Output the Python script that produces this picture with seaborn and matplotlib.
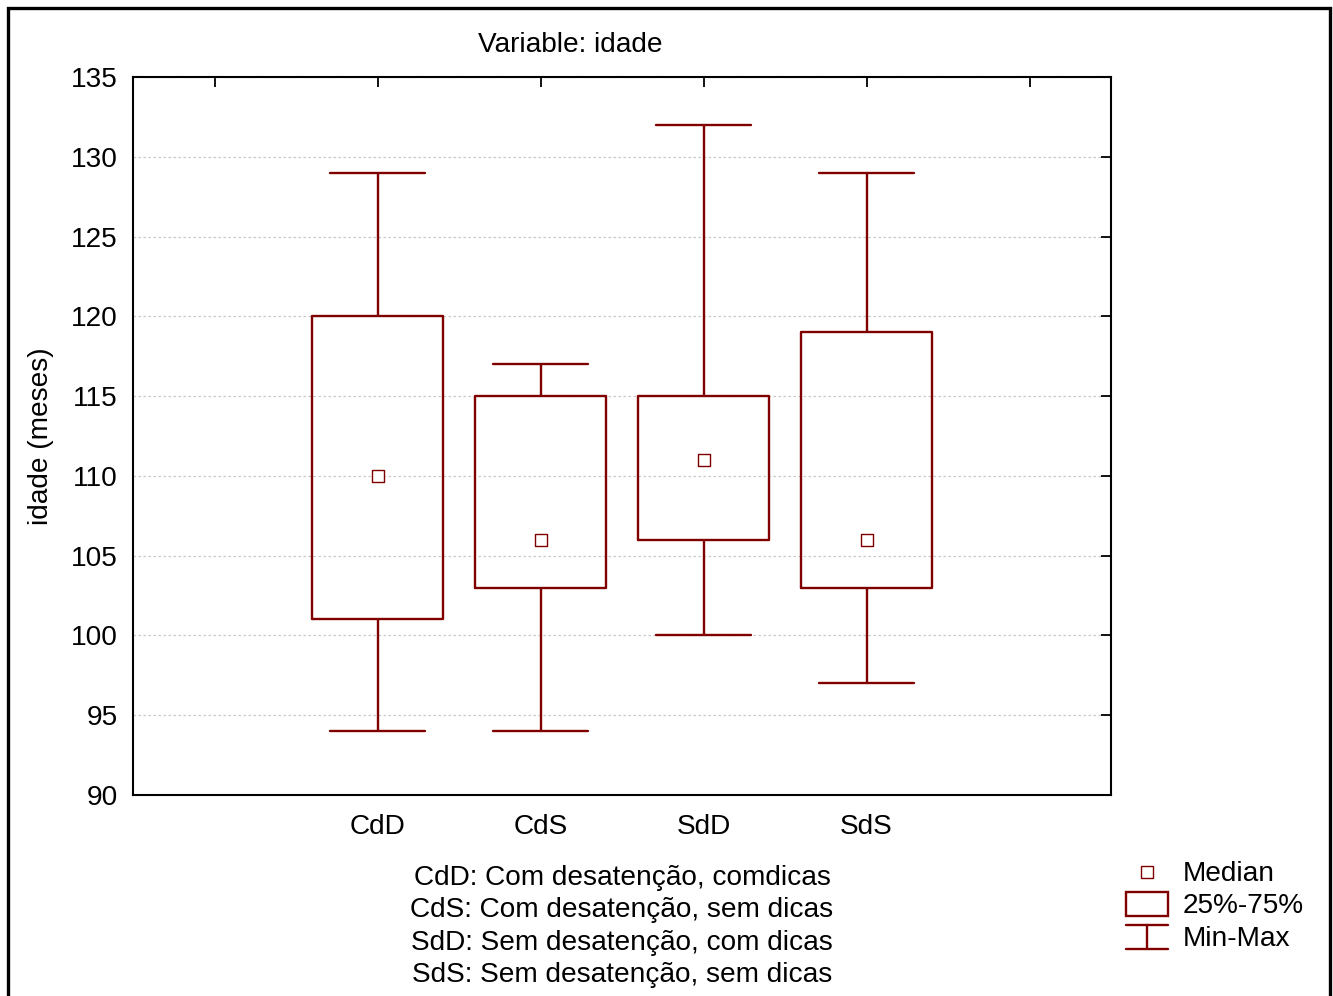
import matplotlib
matplotlib.use("Agg")
import matplotlib.pyplot as plt
import pandas as pd
import seaborn as sns
import numpy as np
from matplotlib.lines import Line2D
from matplotlib.patches import Rectangle

# summary stats (min, q1, median, q3, max)
groups = ['CdD', 'CdS', 'SdD', 'SdS']
mins = [94, 94, 100, 97]
q1s = [101, 103, 106, 103]
medians = [110, 106, 111, 106]
q3s = [120, 115, 115, 119]
maxs = [129, 117, 132, 129]

legend_lines = [
    'CdD: Com desatenção, comdicas',
    'CdS: Com desatenção, sem dicas',
    'SdD: Sem desatenção, com dicas',
    'SdS: Sem desatenção, sem dicas',
]

# five points per group give exact quartiles with linear percentiles
rows = []
for g, a, b, c, d, e in zip(groups, mins, q1s, medians, q3s, maxs):
    for v in (a, b, c, d, e):
        rows.append({'grupo': g, 'idade': v})
df = pd.DataFrame(rows)
med_df = pd.DataFrame({'grupo': groups, 'idade': medians})

order = [''] + groups + [' ']
red = '#800000'
fs = 20.2

sns.set_style('white')
plt.rcParams['font.family'] = ['Liberation Sans', 'DejaVu Sans']
plt.rcParams['text.color'] = 'black'
plt.rcParams['axes.labelcolor'] = 'black'
plt.rcParams['xtick.color'] = 'black'
plt.rcParams['ytick.color'] = 'black'

fig = plt.figure(figsize=(13.33, 9.96), dpi=100)
ax = fig.add_axes([0.0998, 0.2018, 0.7337, 0.7209])

sns.boxplot(data=df, x='grupo', y='idade', order=order, whis=np.inf,
            width=0.8, fill=False, color=red, linewidth=1.7,
            medianprops={'visible': False}, showfliers=False,
            capwidths=0.58, ax=ax)
sns.scatterplot(data=med_df, x='grupo', y='idade', marker='s', s=85,
                facecolor='white', edgecolor=red, linewidth=1.0,
                zorder=5, ax=ax)

ax.set_xlim(-0.5, 5.5)
ax.set_ylim(90, 135)
ax.set_yticks(range(90, 136, 5))
ax.set_xticks(range(6))
ax.set_xticklabels(order)
ax.yaxis.grid(True, linestyle=(0, (2, 2)), color='#c8c8c8', linewidth=0.9)
ax.set_axisbelow(True)
ax.tick_params(direction='in', length=7, width=1.3, labelsize=fs,
               top=True, right=True, colors='black')
ax.tick_params(axis='y', pad=11)
ax.tick_params(axis='x', pad=14)
for sp in ax.spines.values():
    sp.set_visible(True)
    sp.set_color('black')
    sp.set_linewidth(1.5)
ax.set_xlabel('')
ax.set_ylabel('idade (meses)', fontsize=fs, labelpad=12)

# pixel-based figure coords for the text block and the legend
W, H = 1333.0, 996.0
def fx(px):
    return px / W
def fy(py):
    return 1 - py / H

fig.text(fx(570), fy(45), 'Variable: idade', ha='center', va='center', fontsize=fs)

for i, line in enumerate(legend_lines):
    fig.text(fx(622), fy(878 + 32.4 * i), line, ha='center', va='center', fontsize=fs)

fig.add_artist(Rectangle((fx(1141), fy(878)), fx(12), 12 / H, fill=False,
                         edgecolor=red, linewidth=1.0))
fig.add_artist(Rectangle((fx(1126), fy(916)), fx(42), 24 / H, fill=False,
                         edgecolor=red, linewidth=1.7))
fig.add_artist(Line2D([fx(1126), fx(1168)], [fy(925), fy(925)], color=red, linewidth=1.7))
fig.add_artist(Line2D([fx(1126), fx(1168)], [fy(949), fy(949)], color=red, linewidth=1.7))
fig.add_artist(Line2D([fx(1147), fx(1147)], [fy(925), fy(949)], color=red, linewidth=1.7))
fig.text(fx(1183), fy(874), 'Median', va='center', fontsize=fs)
fig.text(fx(1183), fy(906), '25%-75%', va='center', fontsize=fs)
fig.text(fx(1183), fy(939), 'Min-Max', va='center', fontsize=fs)

# outer frame
fig.add_artist(Rectangle((fx(8), -0.05), fx(1322), fy(8) + 0.05, fill=False,
                         edgecolor='black', linewidth=2.4))

fig.savefig('out.png', dpi=100, facecolor='white')
